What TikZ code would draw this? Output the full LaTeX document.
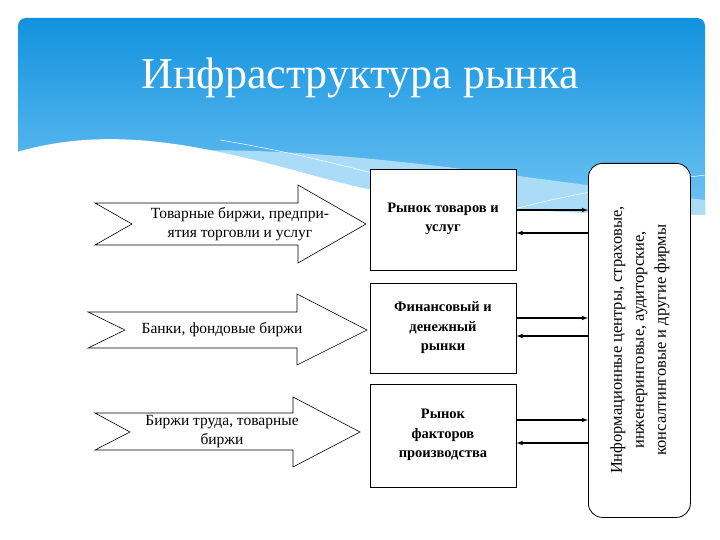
\documentclass[tikz,border=0pt]{standalone}
\usepackage{fontspec}
\setmainfont{Liberation Serif}
\usetikzlibrary{positioning,arrows}
\definecolor{skyA}{RGB}{18,146,222}
\definecolor{skyB}{RGB}{120,200,245}
\definecolor{skyC}{RGB}{170,220,248}
\tikzset{
  bigarrow/.style = {draw=black, fill=white, line width=0.6pt},
  marketbox/.style = {draw=black, fill=white, line width=0.6pt},
  boxtext/.style = {align=center, font=\bfseries\fontsize{14.5}{19.5}\selectfont},
  infobox/.style = {draw=black, fill=white, line width=0.8pt, rounded corners=14pt},
  arrtext/.style = {align=center, font=\fontsize{15.5}{19}\selectfont},
  link/.style = {line width=1.1pt, -latex}
}
\begin{document}
\begin{tikzpicture}[x=1pt,y=-1pt]
\useasboundingbox (0,0) rectangle (720,540);
\fill[white] (0,0) rectangle (720,540);
% header
\shade[top color=skyA, bottom color=skyB, rounded corners=8pt]
  (18,18) rectangle (705,230);
\fill[skyC] (18,230) -- (18,175) .. controls (200,120) and (450,170) .. (705,200) -- (705,230) -- cycle;
\fill[white] (17,232) -- (17,152) .. controls (120,122) and (220,150) .. (330,180)
  .. controls (450,212) and (600,215) .. (706,215) -- (706,232) -- cycle;
\draw[white, line width=0.5pt] (220,140) .. controls (400,170) and (550,230) .. (706,270);
\draw[white, line width=0.5pt] (400,245) .. controls (520,200) and (620,185) .. (706,175);
\node[white, font=\fontsize{44}{50}\selectfont] (title) at (360,78) {Инфраструктура рынка};
% market boxes
\node[marketbox, minimum width=146pt, minimum height=101pt, anchor=north west] (m1) at (370,169) {};
\node[boxtext] (t1) at (443,219) {Рынок товаров и\\услуг};
\node[marketbox, minimum width=146pt, minimum height=90pt, anchor=north west] (m2) at (370,283) {};
\node[boxtext] (t2) at (443,328) {Финансовый и\\денежный\\рынки};
\node[marketbox, minimum width=146pt, minimum height=103pt, anchor=north west] (m3) at (370,384) {};
\node[boxtext] (t3) at (443,435) {Рынок\\факторов\\производства};
% info box
\node[infobox, minimum width=102pt, minimum height=354pt, anchor=north west] (info) at (588,163) {};
\node[rotate=90, align=center, font=\fontsize{16.5}{22}\selectfont] (it) at (640,340)
  {Информационные центры, страховые,\\инженеринговые, аудиторские,\\консалтинговые и другие фирмы};
% links
\foreach \m/\ya/\yb in {m1/210/233, m2/318/336, m3/420/443} {
  \draw[link] (m1.east |- 0,\ya) -- (info.west |- 0,\ya);
  \draw[link] (info.west |- 0,\yb) -- (m1.east |- 0,\yb);
}
% big arrows
\draw[bigarrow] (95,203) -- (298,203) -- (298,185) -- (366,224) -- (298,263) -- (298,245)
  -- (95,245) -- (132,224) -- cycle;
\node[arrtext] (a1) at (240,224) {Товарные биржи, предпри-\\ятия торговли и услуг};
\draw[bigarrow] (88,312) -- (297,312) -- (297,294) -- (367,330) -- (297,365) -- (297,348)
  -- (88,348) -- (125,330) -- cycle;
\node[arrtext] (a2) at (222,330) {Банки, фондовые биржи};
\draw[bigarrow] (95,413) -- (293,413) -- (293,397) -- (360,432) -- (293,467) -- (293,450)
  -- (95,450) -- (130,432) -- cycle;
\node[arrtext] (a3) at (222,432) {Биржи труда, товарные\\биржи};
\end{tikzpicture}
\end{document}
